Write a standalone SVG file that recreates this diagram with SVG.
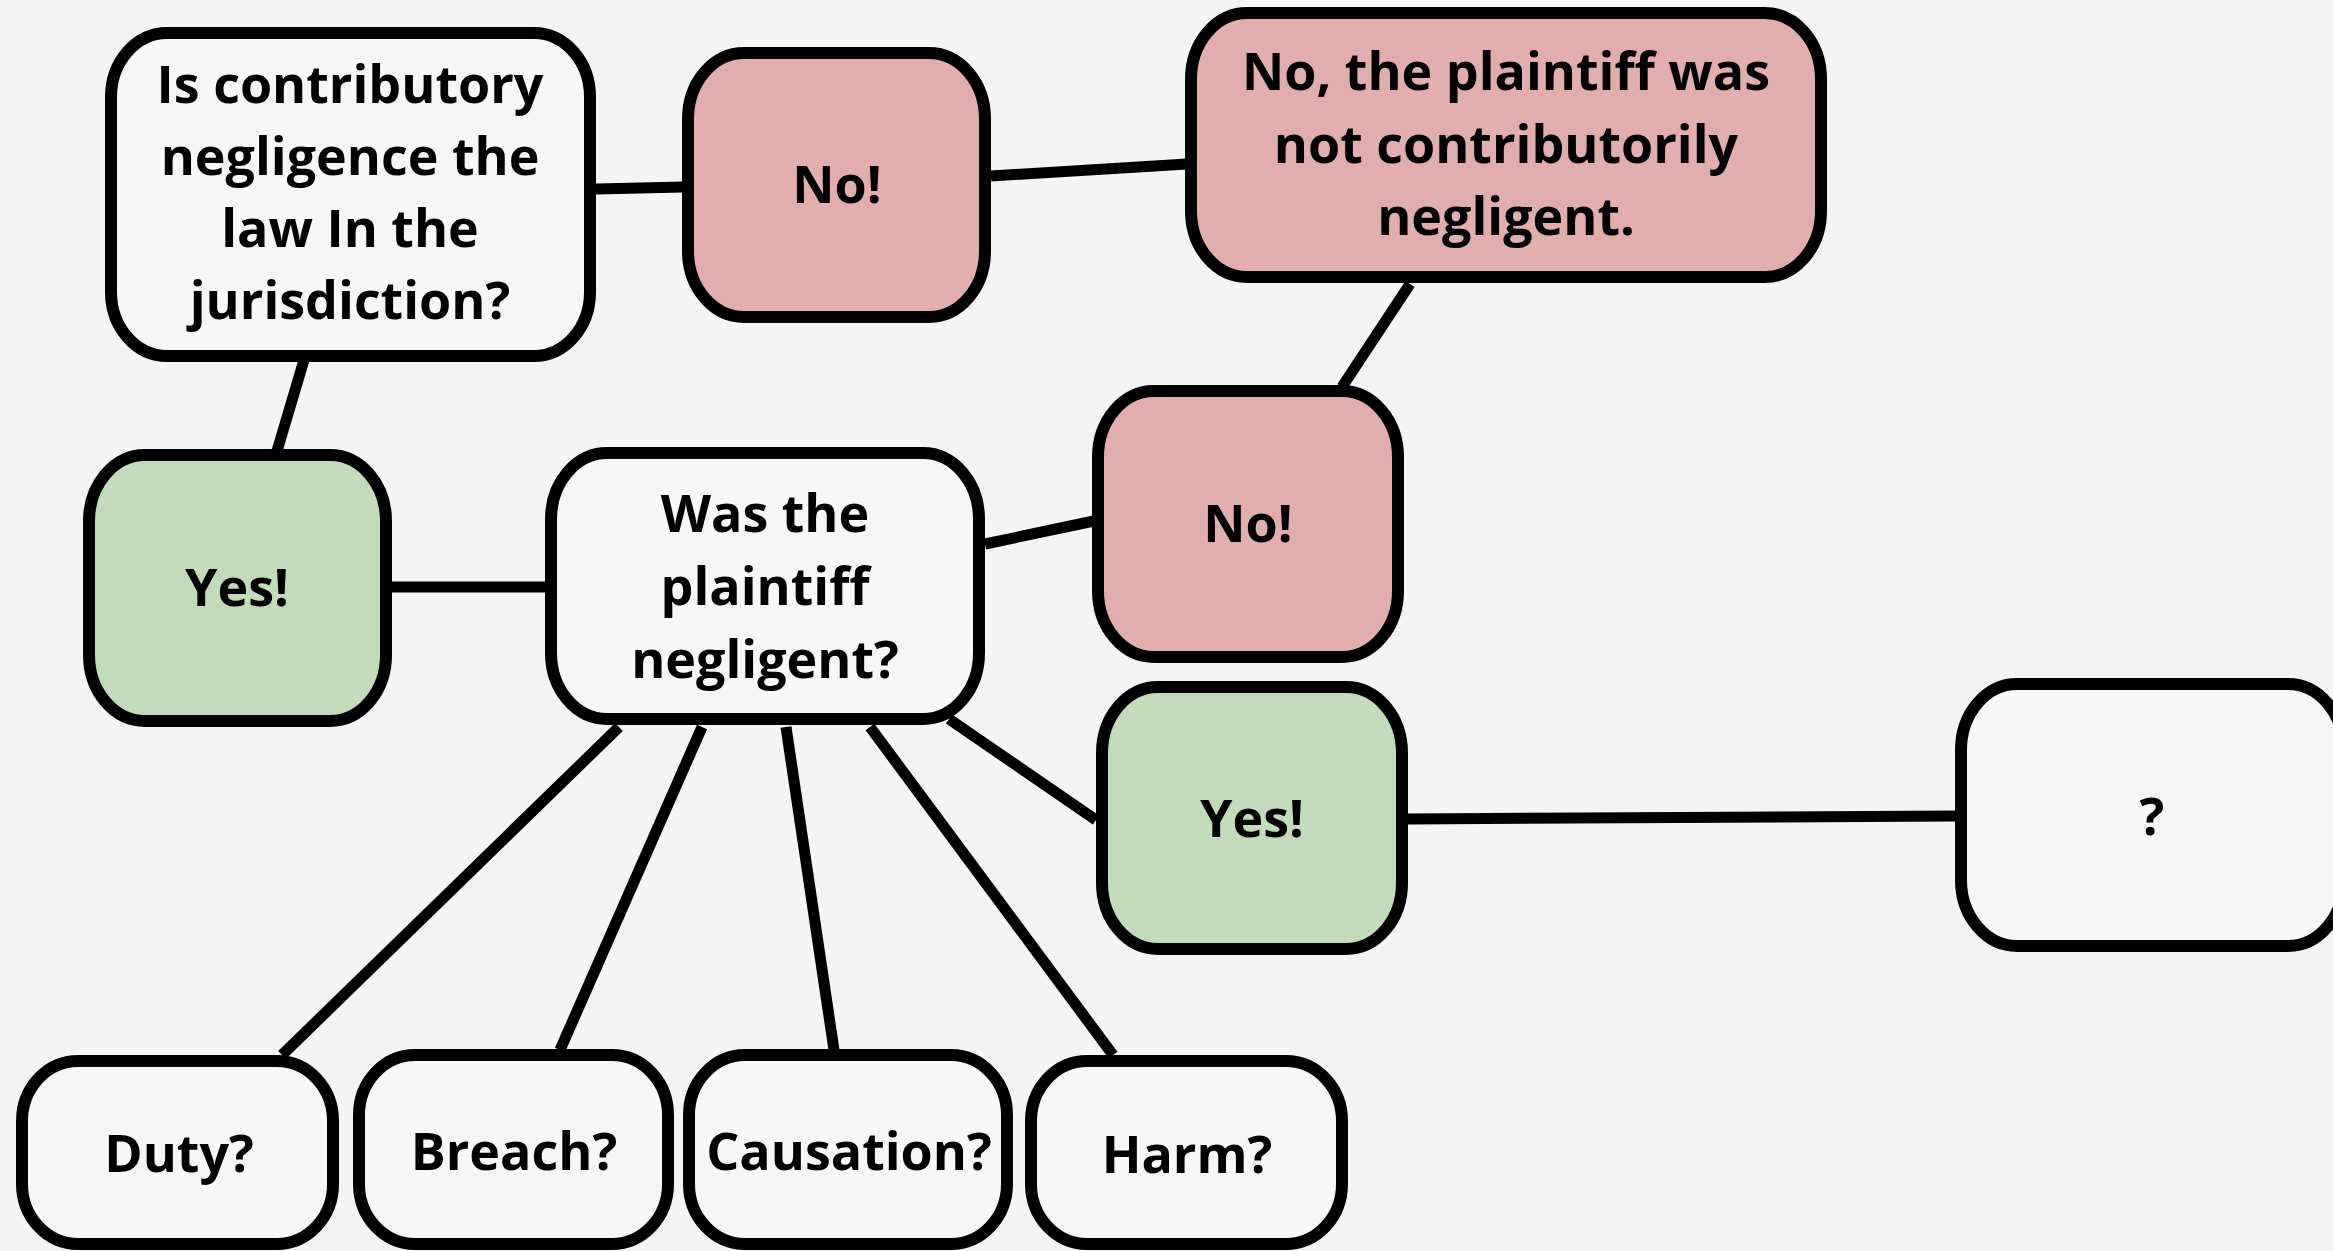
<svg xmlns="http://www.w3.org/2000/svg" width="2333" height="1251" viewBox="0 0 2333 1251">
<style>
.box{stroke:#000;stroke-width:12}
.w{fill:#f7f7f7}
.p{fill:#e1adad}
.g{fill:#c2dbb8}
.t{font-family:"Open Sans","Liberation Sans",sans-serif;font-weight:700;font-size:52px;fill:#000;text-anchor:middle}
.c line{stroke:#000;stroke-width:11;stroke-linecap:butt}
</style>
<rect width="2333" height="1251" fill="#f4f4f4"/>
<g class="c" id="connectors">
<line x1="596" y1="189" x2="684" y2="187"/>
<line x1="991" y1="176" x2="1187" y2="164"/>
<line x1="1410" y1="284" x2="1342" y2="387"/>
<line x1="304" y1="360" x2="277" y2="451"/>
<line x1="392" y1="587" x2="547" y2="587"/>
<line x1="985" y1="544" x2="1094" y2="521"/>
<line x1="949" y1="719" x2="1096" y2="820"/>
<line x1="1408" y1="819" x2="1957" y2="816"/>
<line x1="619" y1="727" x2="282" y2="1055"/>
<line x1="702" y1="727" x2="560" y2="1050"/>
<line x1="786" y1="727" x2="834" y2="1050"/>
<line x1="870" y1="727" x2="1113" y2="1055"/>
</g>
<g id="n-contrib">
<rect class="box w" x="111" y="33" width="479" height="323" rx="56" ry="64"/>
<text class="t" x="350" y="103">Is contributory</text>
<text class="t" x="350" y="175">negligence the</text>
<text class="t" x="350" y="247">law In the</text>
<text class="t" x="350" y="319">jurisdiction?</text>
</g>
<g id="n-no1">
<rect class="box p" x="688" y="53" width="297" height="264" rx="56" ry="66"/>
<text class="t" x="837" y="203">No!</text>
</g>
<g id="n-notneg">
<rect class="box p" x="1191" y="13" width="630" height="264" rx="56" ry="66"/>
<text class="t" x="1506" y="90">No, the plaintiff was</text>
<text class="t" x="1506" y="163">not contributorily</text>
<text class="t" x="1506" y="235">negligent.</text>
</g>
<g id="n-yes1">
<rect class="box g" x="89" y="455" width="297" height="266" rx="56" ry="66"/>
<text class="t" x="237" y="606">Yes!</text>
</g>
<g id="n-was">
<rect class="box w" x="551" y="453" width="428" height="266" rx="56" ry="66"/>
<text class="t" x="765" y="532">Was the</text>
<text class="t" x="765" y="605">plaintiff</text>
<text class="t" x="765" y="678">negligent?</text>
</g>
<g id="n-no2">
<rect class="box p" x="1098" y="391" width="300" height="266" rx="56" ry="66"/>
<text class="t" x="1248" y="542">No!</text>
</g>
<g id="n-yes2">
<rect class="box g" x="1102" y="687" width="300" height="262" rx="56" ry="66"/>
<text class="t" x="1252" y="837">Yes!</text>
</g>
<g id="n-q">
<rect class="box w" x="1961" y="684" width="383" height="262" rx="56" ry="66"/>
<text class="t" x="2152" y="835">?</text>
</g>
<g id="n-duty">
<rect class="box w" x="22" y="1061" width="311" height="183" rx="56" ry="60"/>
<text class="t" x="179" y="1172">Duty?</text>
</g>
<g id="n-breach">
<rect class="box w" x="359" y="1055" width="309" height="189" rx="56" ry="60"/>
<text class="t" x="514" y="1170">Breach?</text>
</g>
<g id="n-causation">
<rect class="box w" x="689" y="1055" width="318" height="189" rx="56" ry="60"/>
<text class="t" x="849" y="1170">Causation?</text>
</g>
<g id="n-harm">
<rect class="box w" x="1031" y="1061" width="311" height="183" rx="56" ry="60"/>
<text class="t" x="1187" y="1173">Harm?</text>
</g>
</svg>
